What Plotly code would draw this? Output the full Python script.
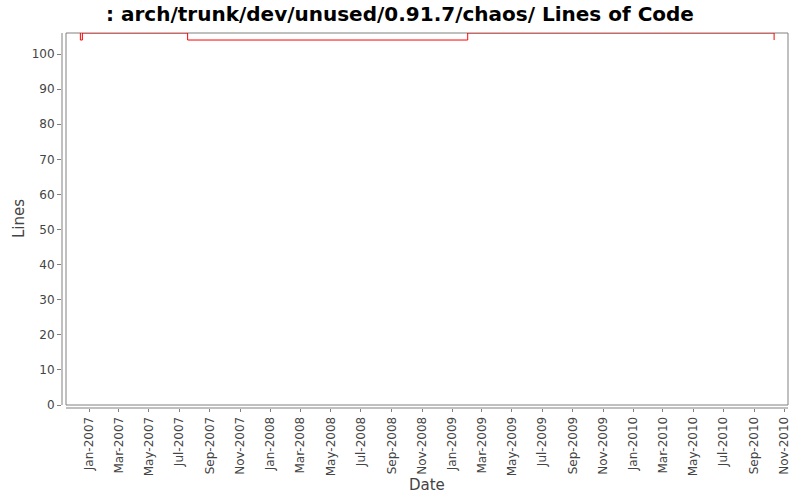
import plotly.graph_objects as go

# data
dates = ["2006-12-13", "2006-12-14", "2006-12-18", "2007-07-18", "2009-02-01", "2010-10-11"]
lines = [106, 104, 106, 104, 106, 104]

title = ": arch/trunk/dev/unused/0.91.7/chaos/ Lines of Code"
y_ticks = list(range(0, 101, 10))

W, H = 800, 500
L, R, T, B = 62, 788, 33, 408   # plot domain in pixels (incl. axis offset)


def px(x):
    return (x - L) / (R - L)


def py(y):
    return (B - y) / (B - T)


fig = go.Figure(
    data=go.Scatter(x=dates, y=lines, mode='lines', line_shape='hv',
                    line=dict(color='#ff0000', width=1), hoverinfo='skip')
)

axis_col = '#808080'
tick_font = dict(family='DejaVu Sans', size=12, color='#444444')

fig.update_layout(
    width=W, height=H,
    margin=dict(l=L, r=W - R, t=T, b=H - B, autoexpand=False),
    paper_bgcolor='white', plot_bgcolor='white',
    showlegend=False,
    title=dict(text='<b>' + title + '</b>', x=0.5, xref='container', xanchor='center',
               y=1 - 14 / H, yref='container', yanchor='middle',
               font=dict(family='DejaVu Sans', size=20, color='black')),
    xaxis=dict(
        type='date', range=['2006-11-07', '2010-11-08'], automargin=False,
        tick0='2007-01-01', dtick='M2', tickformat='%b-%Y', tickangle=-90,
        ticks='outside', ticklen=3, tickcolor=axis_col, tickfont=tick_font,
        showgrid=False, zeroline=False, showline=False,
    ),
    yaxis=dict(
        range=[-0.855, 106], tickvals=y_ticks, automargin=False,
        ticks='outside', ticklen=4, tickcolor=axis_col, tickfont=tick_font,
        showgrid=False, zeroline=False, showline=False,
    ),
    shapes=[
        # plot border
        dict(type='rect', xref='paper', yref='paper', x0=px(66), x1=1, y0=py(405), y1=1,
             line=dict(color=axis_col, width=1), layer='below'),
        # offset y axis line
        dict(type='line', xref='paper', yref='paper', x0=0, x1=0, y0=py(405), y1=1,
             line=dict(color=axis_col, width=1)),
        # offset x axis line
        dict(type='line', xref='paper', yref='paper', x0=px(66), x1=1, y0=0, y1=0,
             line=dict(color=axis_col, width=1)),
    ],
    annotations=[
        dict(text='Lines', xref='paper', yref='paper', x=px(19), y=py(219), textangle=-90,
             showarrow=False, xanchor='center', yanchor='middle',
             font=dict(family='DejaVu Sans', size=15, color='#444444')),
        dict(text='Date', xref='paper', yref='paper', x=px(427), y=py(485),
             showarrow=False, xanchor='center', yanchor='middle',
             font=dict(family='DejaVu Sans', size=15, color='#444444')),
    ],
)

# drop the default page margin so the figure sits at the window's corner
fig.write_html("out.html", config={'displayModeBar': False},
               post_script="document.body.style.margin = '0';")
